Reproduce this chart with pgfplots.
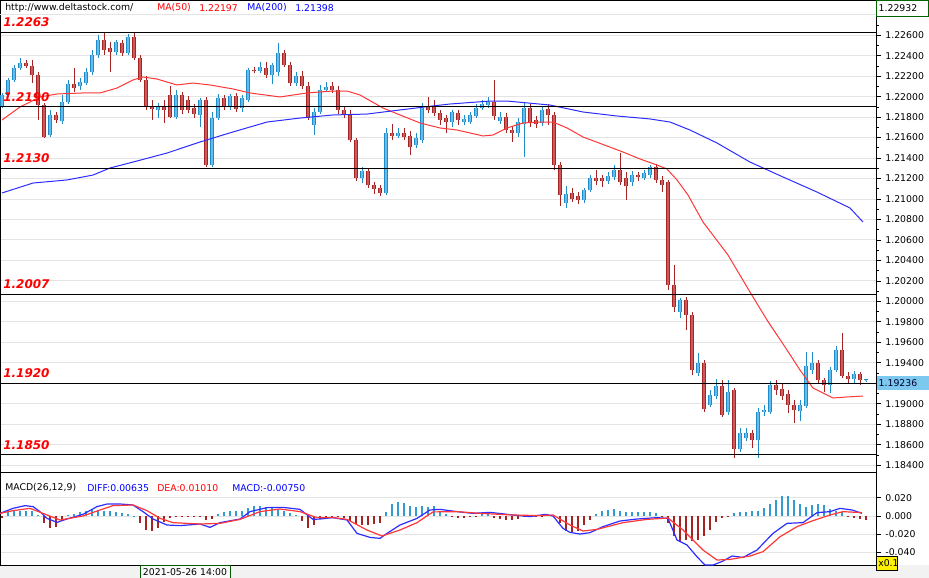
\documentclass[border=0pt]{standalone}
\usepackage{fontspec}
\setmainfont{DejaVu Sans}
\usepackage{pgfplots}
\usepackage{pgfplotstable}
\pgfplotsset{compat=1.18}
\definecolor{candR}{RGB}{165,35,35}
\definecolor{candRf}{RGB}{205,90,90}
\definecolor{candB}{RGB}{30,140,200}
\definecolor{candBf}{RGB}{100,188,236}
\definecolor{maR}{RGB}{255,55,55}
\definecolor{maB}{RGB}{45,45,255}
\definecolor{gridc}{RGB}{228,228,228}
\definecolor{histB}{RGB}{50,155,210}
\definecolor{histR}{RGB}{165,35,35}
\definecolor{skyb}{RGB}{125,200,238}
\definecolor{boxg}{RGB}{0,100,0}
\newcommand\sm{\fontsize{7}{8.4}\selectfont}
\pgfplotsset{candle/.style 2 args={draw=none, mark=none, forget plot,
  error bars/.cd, y dir=plus, y explicit, error mark=none,
  error bar style={draw=#1, line width=#2}}}

\pgfplotstableread{
x o h l c
2 1.21899 1.22036 1.21889 1.22016
8 1.22016 1.22182 1.21997 1.22163
14 1.22163 1.22309 1.22143 1.22280
20 1.22280 1.22378 1.22260 1.22329
26 1.22329 1.22358 1.22280 1.22299
32 1.22299 1.22358 1.22133 1.22211
38 1.22211 1.22241 1.21772 1.21918
44 1.21918 1.21938 1.21596 1.21606
50 1.21625 1.21870 1.21606 1.21821
56 1.21821 1.21850 1.21743 1.21772
62 1.21762 1.22016 1.21733 1.21948
68 1.21948 1.22163 1.21928 1.22124
74 1.22124 1.22280 1.22045 1.22084
80 1.22104 1.22182 1.22065 1.22143
86 1.22133 1.22280 1.22114 1.22241
92 1.22241 1.22456 1.22211 1.22407
98 1.22407 1.22602 1.22378 1.22553
104 1.22553 1.22632 1.22407 1.22456
110 1.22475 1.22534 1.22241 1.22436
116 1.22436 1.22553 1.22407 1.22534
122 1.22524 1.22553 1.22397 1.22426
128 1.22426 1.22612 1.22407 1.22583
134 1.22583 1.22622 1.22358 1.22378
140 1.22378 1.22407 1.22143 1.22163
146 1.22163 1.22202 1.21870 1.21909
152 1.21909 1.21967 1.21772 1.21879
158 1.21870 1.21938 1.21791 1.21909
164 1.21909 1.21967 1.21743 1.21870
170 1.22016 1.22104 1.21791 1.21801
176 1.21801 1.22065 1.21782 1.22016
182 1.22016 1.22045 1.21830 1.21870
188 1.21967 1.22006 1.21840 1.21870
194 1.21889 1.21928 1.21791 1.21830
200 1.21821 1.21987 1.21703 1.21967
206 1.21967 1.21997 1.21313 1.21332
212 1.21332 1.21850 1.21313 1.21791
218 1.21791 1.22026 1.21772 1.21987
224 1.21987 1.22016 1.21870 1.21909
230 1.21899 1.22026 1.21870 1.22006
236 1.22006 1.22036 1.21850 1.21879
242 1.21889 1.22016 1.21850 1.21987
248 1.21967 1.22280 1.21948 1.22260
254 1.22260 1.22290 1.22231 1.22251
260 1.22251 1.22338 1.22231 1.22290
266 1.22280 1.22338 1.22182 1.22211
272 1.22211 1.22329 1.22124 1.22309
278 1.22241 1.22524 1.22202 1.22426
284 1.22426 1.22456 1.22290 1.22309
290 1.22309 1.22338 1.22104 1.22133
296 1.22133 1.22241 1.22104 1.22202
302 1.22202 1.22251 1.22075 1.22104
308 1.22104 1.22143 1.21772 1.21791
314 1.21723 1.21889 1.21625 1.21850
320 1.21850 1.22114 1.21830 1.22065
326 1.22065 1.22143 1.22045 1.22094
332 1.22104 1.22143 1.22036 1.22065
338 1.22065 1.22104 1.21830 1.21870
344 1.21870 1.21909 1.21791 1.21830
350 1.21830 1.21870 1.21557 1.21576
356 1.21576 1.21596 1.21176 1.21205
362 1.21205 1.21313 1.21156 1.21274
368 1.21274 1.21303 1.21107 1.21137
374 1.21137 1.21166 1.21049 1.21098
380 1.21107 1.21137 1.21029 1.21059
386 1.21059 1.21694 1.21039 1.21645
392 1.21645 1.21733 1.21576 1.21616
398 1.21616 1.21694 1.21596 1.21645
404 1.21645 1.21694 1.21576 1.21606
410 1.21616 1.21664 1.21430 1.21508
416 1.21528 1.21645 1.21498 1.21596
422 1.21576 1.21938 1.21547 1.21889
428 1.21899 1.21997 1.21840 1.21870
434 1.21909 1.21967 1.21811 1.21840
440 1.21840 1.21870 1.21723 1.21772
446 1.21791 1.21821 1.21645 1.21752
452 1.21752 1.21870 1.21703 1.21850
458 1.21840 1.21870 1.21723 1.21772
464 1.21752 1.21821 1.21723 1.21782
470 1.21752 1.21850 1.21733 1.21821
476 1.21811 1.21928 1.21791 1.21889
482 1.21889 1.21967 1.21870 1.21928
488 1.21918 1.21997 1.21889 1.21948
494 1.21948 1.22163 1.21772 1.21811
500 1.21762 1.21850 1.21733 1.21801
506 1.21801 1.21840 1.21645 1.21674
512 1.21674 1.21713 1.21557 1.21645
518 1.21645 1.21791 1.21606 1.21752
524 1.21733 1.21938 1.21410 1.21889
530 1.21889 1.21928 1.21703 1.21752
536 1.21772 1.21811 1.21694 1.21733
542 1.21743 1.21909 1.21713 1.21870
548 1.21879 1.21928 1.21723 1.21821
554 1.21821 1.21850 1.21283 1.21332
560 1.21332 1.21361 1.20932 1.21039
566 1.20961 1.21127 1.20912 1.21049
572 1.21059 1.21107 1.20971 1.21000
578 1.21029 1.21068 1.20951 1.20990
584 1.20990 1.21107 1.20961 1.21088
590 1.21088 1.21234 1.21068 1.21205
596 1.21205 1.21283 1.21137 1.21176
602 1.21205 1.21234 1.21117 1.21176
608 1.21176 1.21264 1.21147 1.21225
614 1.21215 1.21332 1.21186 1.21283
620 1.21283 1.21449 1.21137 1.21166
626 1.21205 1.21264 1.20990 1.21127
632 1.21166 1.21274 1.21127 1.21234
638 1.21234 1.21264 1.21176 1.21215
644 1.21205 1.21283 1.21186 1.21254
650 1.21234 1.21332 1.21205 1.21313
656 1.21313 1.21342 1.21156 1.21186
662 1.21186 1.21225 1.21068 1.21137
668 1.21166 1.21186 1.20111 1.20160
674 1.20160 1.20355 1.19896 1.19945
680 1.19896 1.20033 1.19837 1.20013
686 1.20013 1.20043 1.19720 1.19867
692 1.19867 1.19896 1.19280 1.19329
698 1.19300 1.19495 1.19271 1.19398
704 1.19398 1.19427 1.18919 1.18948
710 1.18987 1.19134 1.18968 1.19085
716 1.19075 1.19241 1.19046 1.19173
722 1.19173 1.19232 1.18870 1.18890
728 1.18919 1.19232 1.18890 1.19114
734 1.19134 1.19153 1.18470 1.18557
740 1.18557 1.18763 1.18528 1.18714
746 1.18665 1.18763 1.18636 1.18714
752 1.18714 1.18743 1.18567 1.18645
758 1.18645 1.18958 1.18470 1.18919
764 1.18919 1.18987 1.18880 1.18939
770 1.18919 1.19222 1.18899 1.19183
776 1.19183 1.19232 1.19085 1.19134
782 1.19144 1.19202 1.19036 1.19075
788 1.19095 1.19134 1.18909 1.18987
794 1.18987 1.19036 1.18812 1.18939
800 1.18929 1.19036 1.18831 1.18987
806 1.18978 1.19505 1.18958 1.19368
812 1.19329 1.19505 1.19290 1.19398
818 1.19398 1.19427 1.19202 1.19232
824 1.19232 1.19251 1.19114 1.19183
830 1.19183 1.19359 1.19105 1.19329
836 1.19329 1.19564 1.19310 1.19525
842 1.19525 1.19691 1.19251 1.19271
848 1.19271 1.19310 1.19202 1.19241
854 1.19241 1.19320 1.19202 1.19290
860 1.19290 1.19310 1.19183 1.19232
866 1.19232 1.19241 1.19212 1.19236
}\candles

\pgfplotstableread{
x m
2 -0.002
8 0.004
14 0.005
20 0.006
26 0.006
32 0.005
38 0.001
44 -0.008
50 -0.013
56 -0.012
62 -0.006
68 0.001
74 0.002
80 0.004
86 0.006
92 0.007
98 0.007
104 0.006
110 0.005
116 0.004
122 0.003
128 0.002
134 0.0005
140 -0.008
146 -0.015
152 -0.017
158 -0.013
164 -0.007
170 -0.002
176 -0.001
182 -0.001
188 -0.001
194 -0.001
200 -0.0005
206 -0.004
212 -0.003
218 0.002
224 0.004
230 0.005
236 0.005
242 0.006
248 0.009
254 0.011
260 0.011
266 0.010
272 0.009
278 0.007
284 0.005
290 0.003
296 0.001
302 -0.005
308 -0.013
314 -0.010
320 -0.003
326 -0.002
332 -0.001
338 -0.001
344 -0.002
350 -0.006
356 -0.009
362 -0.010
368 -0.010
374 -0.009
380 -0.008
386 0.004
392 0.013
398 0.015
404 0.014
410 0.011
416 0.010
422 0.011
428 0.010
434 0.011
440 0.004
446 0.002
452 -0.001
458 -0.002
464 -0.002
470 -0.001
476 -0.001
482 0.002
488 0.002
494 -0.002
500 -0.003
506 -0.004
512 -0.004
518 -0.003
524 -0.001
530 -0.001
536 -0.001
542 -0.0005
548 0.002
554 0.001
560 -0.008
566 -0.016
572 -0.018
578 -0.016
584 -0.010
590 -0.004
596 0.002
602 0.005
608 0.007
614 0.008
620 0.006
626 0.004
632 0.004
638 0.004
644 0.004
650 0.004
656 0.003
662 -0.001
668 -0.008
674 -0.022
680 -0.028
686 -0.026
692 -0.028
698 -0.026
704 -0.022
710 -0.015
716 -0.007
722 -0.002
728 -0.001
734 0.003
740 0.004
746 0.004
752 0.005
758 0.006
764 0.009
770 0.013
776 0.018
782 0.022
788 0.022
794 0.018
800 0.013
806 0.010
812 0.012
818 0.013
824 0.012
830 0.008
836 0.005
842 0.004
848 -0.001
854 -0.002
860 -0.003
866 -0.004
}\macdhist

\begin{document}
\begin{tikzpicture}
\fill[white] (0pt,0pt) rectangle (696.75pt,-433.5pt);
\fill[gray!10] (0pt,-423.75pt) rectangle (696.75pt,-433.5pt);

% ---------------- main price panel ----------------
\begin{axis}[
  at={(0pt,0pt)}, anchor=north west,
  scale only axis, width=657pt, height=354pt,
  xmin=0, xmax=876, ymin=1.183328, ymax=1.229442,
  xtick=\empty,
  ytick={1.184,1.186,1.188,1.190,1.194,1.196,1.198,1.200,1.202,1.204,1.206,1.208,1.210,1.212,1.214,1.216,1.218,1.220,1.222,1.224,1.226},
  extra y ticks={1.192,1.228}, extra y tick labels={},
  extra y tick style={ymajorgrids, major grid style={gridc, line width=0.75pt}},
  minor ytick={1.185,1.187,1.189,1.191,1.193,1.195,1.197,1.199,1.201,1.203,1.205,1.207,1.209,1.211,1.213,1.215,1.217,1.219,1.221,1.223,1.225,1.227,1.229},
  ytick pos=right, yticklabel pos=right,
  tick align=outside,
  major tick length=3.5pt, minor tick length=2pt,
  tick style={black, line width=0.5pt},
  ymajorgrids, major grid style={gridc, line width=0.75pt},
  axis line style={black, line width=0.6pt},
  scaled y ticks=false,
  yticklabel style={font=\sm, xshift=0pt,
    /pgf/number format/fixed, /pgf/number format/fixed zerofill,
    /pgf/number format/precision=5, /pgf/number format/assume math mode=true},
  unbounded coords=discard,
]
% wicks
\addplot[candle={candR}{0.75pt}]
  table[x=x, y expr={\thisrow{c}<\thisrow{o} ? \thisrow{l} : nan},
        y error plus expr={\thisrow{h}-\thisrow{l}}] {\candles};
\addplot[candle={candB}{0.75pt}]
  table[x=x, y expr={\thisrow{c}<\thisrow{o} ? nan : \thisrow{l}},
        y error plus expr={\thisrow{h}-\thisrow{l}}] {\candles};
% bodies red
\addplot[candle={candR}{3.2pt}]
  table[x=x, y expr={\thisrow{c}<\thisrow{o} ? \thisrow{c} : nan},
        y error plus expr={\thisrow{o}-\thisrow{c}}] {\candles};
\addplot[candle={candRf}{1.6pt}]
  table[x=x, y expr={\thisrow{c}<\thisrow{o} ? \thisrow{c} : nan},
        y error plus expr={\thisrow{o}-\thisrow{c}}] {\candles};
% bodies blue
\addplot[candle={candB}{3.2pt}]
  table[x=x, y expr={\thisrow{c}<\thisrow{o} ? nan : \thisrow{o}},
        y error plus expr={\thisrow{c}-\thisrow{o}+0.00003}] {\candles};
\addplot[candle={candBf}{1.6pt}]
  table[x=x, y expr={\thisrow{c}<\thisrow{o} ? nan : \thisrow{o}},
        y error plus expr={\thisrow{c}-\thisrow{o}}] {\candles};

% MA(50)
\addplot[maR, line width=0.75pt, mark=none] coordinates {
(2,1.21772) (20,1.21899) (40,1.21997) (57,1.22026) (83,1.22036) (100,1.22036)
(117,1.22084) (133,1.22163) (143,1.22192) (157,1.22172) (177,1.22114) (193,1.22133)
(210,1.22114) (233,1.22075) (250,1.22036) (280,1.21997) (307,1.22036) (333,1.22055)
(347,1.22055) (360,1.22016) (383,1.21889) (400,1.21821) (420,1.21743) (440,1.21694)
(457,1.21674) (483,1.21616) (493,1.21625) (507,1.21694) (523,1.21743) (540,1.21752)
(553,1.21752) (567,1.21694) (583,1.21606) (607,1.21518) (623,1.21459) (640,1.21391)
(657,1.21332) (667,1.21293) (677,1.21186) (688,1.21039) (703,1.20775) (728,1.20453)
(750,1.20091) (767,1.19818) (787,1.19525) (800,1.19329) (813,1.19153) (833,1.19056)
(847,1.19066) (863,1.19075)};
% MA(200)
\addplot[maB, line width=0.75pt, mark=none] coordinates {
(2,1.21059) (33,1.21156) (67,1.21186) (93,1.21234) (110,1.21303) (133,1.21361)
(167,1.21449) (200,1.21557) (233,1.21655) (267,1.21752) (300,1.21791) (333,1.21821)
(367,1.21830) (400,1.21870) (433,1.21909) (450,1.21928) (490,1.21957) (507,1.21957)
(550,1.21918) (583,1.21850) (617,1.21811) (650,1.21782) (670,1.21752) (690,1.21674)
(717,1.21547) (750,1.21361) (783,1.21215) (817,1.21068) (850,1.20912) (863,1.20775)};

% level lines
\addplot[black, line width=0.9pt, mark=none] coordinates {(0,1.2263) (876,1.2263)};
\addplot[black, line width=0.9pt, mark=none] coordinates {(0,1.2190) (876,1.2190)};
\addplot[black, line width=0.9pt, mark=none] coordinates {(0,1.2130) (876,1.2130)};
\addplot[black, line width=0.9pt, mark=none] coordinates {(0,1.2007) (876,1.2007)};
\addplot[black, line width=0.9pt, mark=none] coordinates {(0,1.1920) (876,1.1920)};
\addplot[black, line width=0.9pt, mark=none] coordinates {(0,1.1850) (876,1.1850)};

\begin{scope}[every node/.style={anchor=base west, inner sep=0pt, text=red,
   font=\fontsize{9}{10}\selectfont\bfseries\itshape, yshift=4pt}]
\node at (axis cs:3,1.2263) {1.2263};
\node at (axis cs:3,1.2190) {1.2190};
\node at (axis cs:3,1.2130) {1.2130};
\node at (axis cs:3,1.2007) {1.2007};
\node at (axis cs:3,1.1920) {1.1920};
\node at (axis cs:3,1.1850) {1.1850};
\end{scope}
\end{axis}

% ---------------- MACD panel ----------------
\begin{axis}[
  at={(0pt,-354pt)}, anchor=north west,
  scale only axis, width=657pt, height=69.75pt,
  xmin=0, xmax=876, ymin=-0.05385, ymax=0.04835,
  xtick=\empty,
  ytick={-0.04,-0.02,0,0.02},
  ytick pos=right, yticklabel pos=right,
  tick align=outside, major tick length=3.5pt,
  tick style={black, line width=0.5pt},
  ymajorgrids, major grid style={gridc, line width=0.75pt},
  axis line style={black, line width=0.6pt},
  scaled y ticks=false,
  yticklabel style={font=\sm,
    /pgf/number format/fixed, /pgf/number format/fixed zerofill,
    /pgf/number format/precision=3, /pgf/number format/assume math mode=true},
  unbounded coords=discard,
]
\addplot[ycomb, histB, line width=1pt, mark=none]
  table[x=x, y expr={\thisrow{m}>0 ? \thisrow{m} : nan}] {\macdhist};
\addplot[ycomb, histR, line width=1pt, mark=none]
  table[x=x, y expr={\thisrow{m}<0 ? \thisrow{m} : nan}] {\macdhist};
% DIFF
\addplot[maB, line width=0.9pt, mark=none] coordinates {
(0,0.0029) (13,0.0084) (25,0.0114) (33,0.0103) (40,0.0048) (47,-0.0026) (57,-0.0070)
(67,-0.0033) (83,0.0018) (97,0.0103) (107,0.0132) (120,0.0132) (133,0.0121) (143,0.0048)
(153,-0.0033) (167,-0.0099) (180,-0.0106) (200,-0.0088) (210,-0.0125) (220,-0.0073)
(240,-0.0033) (250,0.0048) (267,0.0092) (283,0.0095) (300,0.0073) (313,-0.0037)
(320,-0.0033) (333,-0.0018) (347,-0.0044) (357,-0.0191) (370,-0.0235) (380,-0.0246)
(387,-0.0191) (400,-0.0099) (417,-0.0026) (430,0.0066) (440,0.0073) (457,0.0048)
(473,0.0029) (490,0.0040) (513,0.0011) (530,-0.0007) (545,0.0018) (553,0.0)
(563,-0.0136) (570,-0.0180) (580,-0.0198) (590,-0.0183) (603,-0.0117) (620,-0.0055)
(637,-0.0033) (657,-0.0018) (668,-0.0026) (677,-0.0264) (687,-0.0319) (697,-0.0448)
(705,-0.0539) (713,-0.0539) (723,-0.0495) (732,-0.0440) (743,-0.0455) (757,-0.0374)
(773,-0.0191) (787,-0.0081) (803,-0.0073) (817,0.0037) (830,0.0048) (840,0.0084)
(852,0.0066) (862,0.0029)};
% DEA
\addplot[maR, line width=0.9pt, mark=none] coordinates {
(0,0.0029) (13,0.0059) (30,0.0084) (43,0.0029) (60,-0.0044) (83,0.0) (100,0.0066)
(113,0.0114) (133,0.0121) (147,0.0059) (160,-0.0026) (173,-0.0073) (200,-0.0088)
(220,-0.0081) (240,-0.0037) (260,0.0048) (280,0.0077) (300,0.0048) (317,-0.0018)
(333,-0.0018) (347,-0.0037) (367,-0.0154) (382,-0.0220) (400,-0.0154) (417,-0.0073)
(433,0.0045) (457,0.0048) (480,0.0029) (513,0.0011) (540,0.0004) (553,0.0011)
(570,-0.0099) (583,-0.0165) (597,-0.0147) (623,-0.0073) (647,-0.0037) (668,-0.0022)
(683,-0.0154) (703,-0.0374) (717,-0.0484) (730,-0.0477) (750,-0.0440) (763,-0.0392)
(780,-0.0228) (797,-0.0117) (813,-0.0051) (830,0.0011) (843,0.0048) (862,0.0037)};
\end{axis}

% ---------------- texts and boxes ----------------
\begin{scope}[every node/.style={anchor=west, inner sep=0pt, font=\sm}]
\node at (3.75pt,-6pt) {http://www.deltastock.com/};
\node[text=red] at (117.75pt,-6pt) {MA(50)};
\node[text=red] at (149.25pt,-6pt) {1.22197};
\node[text=blue] at (185.25pt,-6pt) {MA(200)};
\node[text=blue] at (221.25pt,-6pt) {1.21398};
\node at (3.75pt,-366pt) {MACD(26,12,9)};
\node[text=blue] at (65.25pt,-366pt) {DIFF:0.00635};
\node[text=red] at (117.75pt,-366pt) {DEA:0.01010};
\node[text=blue] at (174pt,-366pt) {MACD:-0.00750};
\end{scope}

\draw[boxg, fill=white, line width=0.75pt] (657.5pt,-0.6pt) rectangle (696.2pt,-12pt);
\node[anchor=west, inner sep=0pt, font=\sm] at (658.8pt,-6.4pt) {1.22932};

\fill[skyb] (657.5pt,-282pt) rectangle (696.75pt,-292.5pt);
\node[anchor=west, inner sep=0pt, font=\sm, text=black!80!blue] at (658.8pt,-287.2pt) {1.19236};

\draw[black, fill=yellow, line width=0.5pt] (657.5pt,-417pt) rectangle (672.75pt,-427.5pt);
\node[anchor=west, inner sep=0pt, font=\sm] at (658.5pt,-422.2pt) {x0.1};

\draw[green!35!black, fill=gray!4, line width=0.6pt] (105pt,-424.3pt) rectangle (172.5pt,-433.5pt);
\node[inner sep=0pt, font=\sm] at (138.75pt,-429pt) {2021-05-26 14:00};

\pgfresetboundingbox
\path[use as bounding box] (0pt,0pt) rectangle (696.75pt,-433.5pt);
\end{tikzpicture}
\end{document}
